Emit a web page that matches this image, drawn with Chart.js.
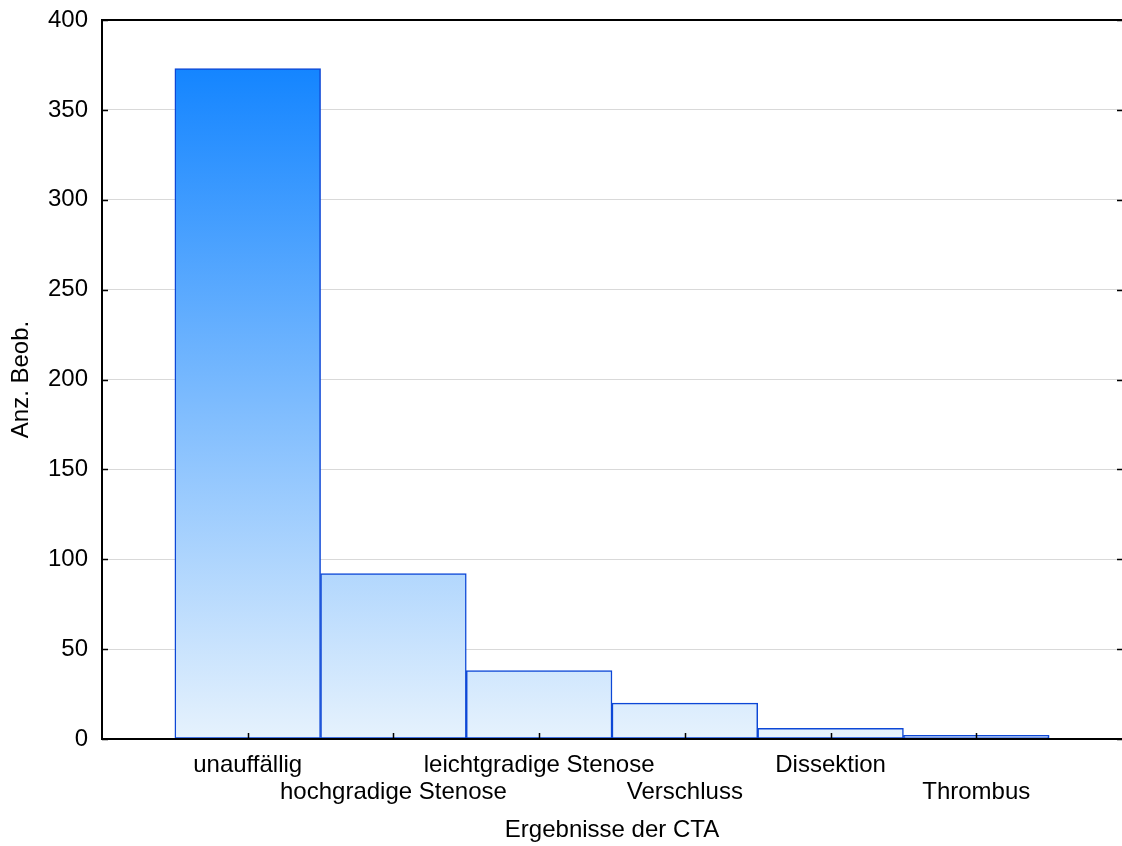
<!DOCTYPE html>
<html lang="de">
<head>
<meta charset="utf-8">
<title>Ergebnisse der CTA</title>
<script src="https://cdn.jsdelivr.net/npm/chart.js@4/dist/chart.umd.min.js"></script>
<style>
  html, body { margin: 0; padding: 0; background: #fff; }
  canvas { display: block; }
</style>
</head>
<body>
<canvas id="chart" width="1122" height="846"></canvas>
<script>
// Befundkategorien der CTA und Anzahl der Beobachtungen
const categories = ['unauffällig', 'hochgradige Stenose', 'leichtgradige Stenose', 'Verschluss', 'Dissektion', 'Thrombus'];
const counts = [373, 92, 38, 20, 6, 2];
const yTicks = [0, 50, 100, 150, 200, 250, 300, 350, 400];

const FONT = 'Liberation Sans, Arial, sans-serif';
const FONT_SIZE = 24;

// vertical fill: light at zero, saturated blue at the tallest bar
function barGradient(context) {
  const chart = context.chart;
  const area = chart.chartArea;
  if (!area) return '#8cc4fc';
  const y = chart.scales.y;
  const g = chart.ctx.createLinearGradient(0, y.getPixelForValue(0), 0, y.getPixelForValue(Math.max(...counts)));
  g.addColorStop(0, '#e6f2fd');
  g.addColorStop(1, '#1485ff');
  return g;
}

// frame (right edge runs off the canvas) plus inward-pointing tick marks
const framePlugin = {
  id: 'frame',
  afterDatasetsDraw(chart) {
    const { ctx, chartArea: a, scales } = chart;
    ctx.save();
    ctx.strokeStyle = '#000';
    ctx.lineWidth = 2;
    ctx.beginPath();
    ctx.moveTo(a.right + 2, a.top);
    ctx.lineTo(a.left, a.top);
    ctx.lineTo(a.left, a.bottom);
    ctx.lineTo(a.right + 2, a.bottom);
    ctx.stroke();
    ctx.lineWidth = 1.5;
    ctx.beginPath();
    categories.forEach((_, i) => {
      const px = Math.round(scales.x.getPixelForValue(i)) + 0.5;
      ctx.moveTo(px, a.bottom);
      ctx.lineTo(px, a.bottom - 6);
    });
    yTicks.forEach(v => {
      const py = Math.round(scales.y.getPixelForValue(v)) + 0.5;
      ctx.moveTo(a.left, py);
      ctx.lineTo(a.left + 6, py);
      ctx.moveTo(a.right + 1, py);
      ctx.lineTo(a.right - 5, py);
    });
    ctx.stroke();
    ctx.restore();
  }
};

new Chart(document.getElementById('chart'), {
  type: 'bar',
  data: {
    datasets: [{
      data: counts.map((v, i) => ({ x: i, y: v })),
      backgroundColor: barGradient,
      borderColor: '#0d47d6',
      borderWidth: 1.5,
      borderSkipped: false,
      barPercentage: 1,
      categoryPercentage: 1
    }]
  },
  options: {
    responsive: false,
    animation: false,
    layout: { padding: { top: 20, right: 0, left: 0, bottom: 0 } },
    plugins: {
      legend: { display: false },
      tooltip: { enabled: false }
    },
    scales: {
      x: {
        type: 'linear',
        min: -1,
        max: 6,
        offset: false,
        grid: { display: false, drawTicks: false },
        border: { display: false },
        afterBuildTicks: scale => { scale.ticks = categories.map((_, i) => ({ value: i })); },
        afterFit: scale => { scale.height = 107; scale.paddingLeft = 0; scale.paddingRight = 0; },
        ticks: {
          autoSkip: false,
          maxRotation: 0,
          padding: 13,
          color: '#000',
          font: { family: FONT, size: FONT_SIZE, lineHeight: 1.13 },
          callback: v => (v % 2 === 0 ? categories[v] : ['', categories[v]])
        },
        title: {
          display: true,
          text: 'Ergebnisse der CTA',
          color: '#000',
          font: { family: FONT, size: FONT_SIZE, lineHeight: 1.13 },
          padding: { top: 0, bottom: 2 }
        }
      },
      y: {
        min: 0,
        max: 400,
        grid: {
          drawTicks: false,
          lineWidth: 1,
          color: ctx => (ctx.tick && (ctx.tick.value === 0 || ctx.tick.value === 400) ? 'rgba(0,0,0,0)' : '#d9d9d9')
        },
        border: { display: false },
        afterBuildTicks: scale => { scale.ticks = yTicks.map(v => ({ value: v })); },
        afterFit: scale => { scale.width = 102; scale.paddingTop = 0; scale.paddingBottom = 0; },
        ticks: {
          padding: 14,
          color: '#000',
          font: { family: FONT, size: FONT_SIZE }
        },
        title: {
          display: true,
          text: 'Anz. Beob.',
          color: '#000',
          font: { family: FONT, size: FONT_SIZE, lineHeight: 1.13 },
          padding: { top: 8, bottom: 0 }
        }
      }
    }
  },
  plugins: [framePlugin]
});
</script>
</body>
</html>
